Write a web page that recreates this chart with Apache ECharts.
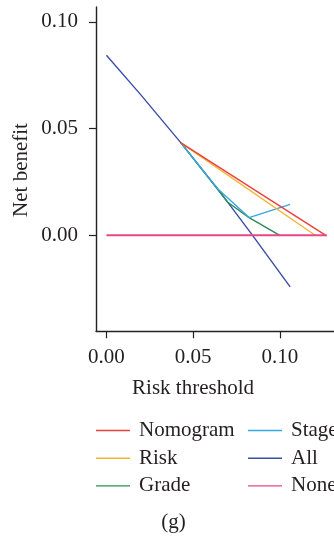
<!DOCTYPE html>
<html>
<head>
<meta charset="utf-8">
<script src="https://cdn.jsdelivr.net/npm/echarts@6/dist/echarts.min.js"></script>
<style>
html,body{margin:0;padding:0;overflow:hidden;background:#fff;width:334px;height:539px;}
#c{width:360px;height:539px;}
</style>
</head>
<body>
<div id="c"></div>
<script>
// Data (x = risk threshold, y = net benefit)
const allPts      = [[0, 0.0844], [0.02, 0.0657], [0.043, 0.0433], [0.064, 0.0220], [0.084, 0.0003], [0.106, -0.0242]];
const nomogramPts = [[0.043, 0.0433], [0.127, -0.0003]];
const riskPts     = [[0.043, 0.0433], [0.1204, 0.0]];
const gradePts    = [[0.043, 0.0433], [0.070, 0.0155], [0.0823, 0.0083], [0.100, 0.0]];
const stagePts    = [[0.043, 0.0433], [0.0637, 0.0222], [0.0823, 0.0083], [0.106, 0.0145]];
const nonePts     = [[0, 0], [0.127, 0]];
const xTicks = [0, 0.05, 0.10];
const yTicks = [0, 0.05, 0.10];
const legendCol1 = ['Nomogram', 'Risk', 'Grade'];
const legendCol2 = ['Stage', 'All', 'None'];

const FONT = 'Liberation Serif';
const FS = 21;
const TXT = '#231f20';
const colors = {
  Nomogram: '#e8413a',
  Risk: '#f4b336',
  Grade: '#2e8b57',
  Stage: '#35a8de',
  All: '#3b4ea6',
  None: '#e8468a'
};

function ser(name, data, w) {
  return {
    name: name, type: 'line', data: data, symbol: 'none', showSymbol: false,
    lineStyle: { color: colors[name], width: w || 1.4 },
    itemStyle: { color: colors[name] },
    emphasis: { disabled: true }, silent: true, animation: false
  };
}

const chart = echarts.init(document.getElementById('c'), null, { renderer: 'canvas' });
const legendBase = {
  orient: 'vertical', itemWidth: 34, itemHeight: 14, itemGap: 6.7, padding: 0,
  icon: 'path://M0,7L34,7L34,8.4L0,8.4Z',
  textStyle: { fontFamily: FONT, fontSize: FS, color: TXT, padding: [0, 0, 0, 4], lineHeight: 20 },
  selectedMode: false
};
chart.setOption({
  animation: false,
  grid: { left: 96, top: 7, width: 253.1, height: 324.3, containLabel: false },
  xAxis: {
    type: 'value', min: -0.006, max: 0.14,
    axisLine: { show: true, onZero: false, lineStyle: { color: '#222', width: 1.4 } },
    axisTick: { show: true, length: 7, customValues: xTicks, lineStyle: { color: '#222', width: 1.2 } },
    axisLabel: { customValues: xTicks, margin: 16, fontFamily: FONT, fontSize: FS, color: TXT,
                 formatter: v => v.toFixed(2) },
    splitLine: { show: false }
  },
  yAxis: {
    type: 'value', min: -0.045, max: 0.107,
    axisLine: { show: true, onZero: false, lineStyle: { color: '#222', width: 1.4 } },
    axisTick: { show: true, length: 7, customValues: yTicks, lineStyle: { color: '#222', width: 1.2 } },
    axisLabel: { customValues: yTicks, margin: 18, fontFamily: FONT, fontSize: FS, color: TXT,
                 formatter: v => v.toFixed(2) },
    splitLine: { show: false }
  },
  legend: [
    Object.assign({}, legendBase, { data: legendCol1, left: 96, top: 420 }),
    Object.assign({}, legendBase, { data: legendCol2, left: 248, top: 420 })
  ],
  graphic: [
    { type: 'text', x: 21.7, y: 170, rotation: Math.PI / 2,
      style: { text: 'Net benefit', font: FS + 'px "Liberation Serif"', fill: TXT, align: 'center', verticalAlign: 'middle' } },
    { type: 'text', x: 193, y: 388,
      style: { text: 'Risk threshold', font: FS + 'px "Liberation Serif"', fill: TXT, align: 'center', verticalAlign: 'middle' } },
    { type: 'text', x: 173.5, y: 522,
      style: { text: '(g)', font: FS + 'px "Liberation Serif"', fill: TXT, align: 'center', verticalAlign: 'middle' } }
  ],
  series: [
    ser('All', allPts),
    ser('Grade', gradePts),
    ser('Stage', stagePts),
    ser('Risk', riskPts),
    ser('Nomogram', nomogramPts),
    ser('None', nonePts, 2)
  ]
});
</script>
</body>
</html>
